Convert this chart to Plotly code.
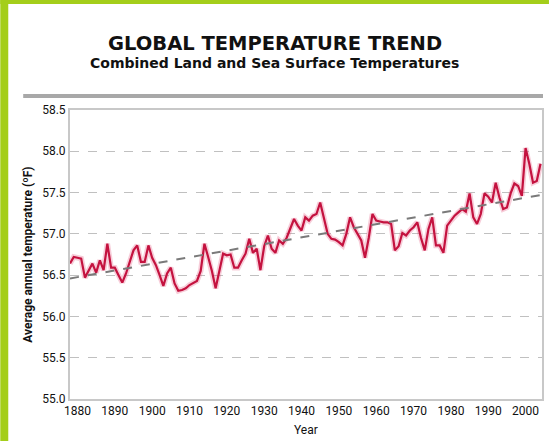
import plotly.graph_objects as go

years = list(range(1878, 2005))
temps = [
    56.64, 56.72, 56.71, 56.70, 56.47, 56.55, 56.64, 56.53, 56.68, 56.56,  # 1878-1887
    56.88, 56.59, 56.59, 56.50, 56.41, 56.52, 56.65, 56.80, 56.86, 56.66,  # 1888-1897
    56.66, 56.86, 56.71, 56.62, 56.50, 56.37, 56.52, 56.59, 56.40, 56.31,  # 1898-1907
    56.32, 56.34, 56.38, 56.41, 56.43, 56.55, 56.88, 56.72, 56.55, 56.34,  # 1908-1917
    56.56, 56.76, 56.74, 56.75, 56.59, 56.59, 56.68, 56.76, 56.94, 56.77,  # 1918-1927
    56.82, 56.56, 56.85, 56.98, 56.82, 56.77, 56.92, 56.88, 56.95, 57.07,  # 1928-1937
    57.18, 57.10, 57.04, 57.20, 57.16, 57.22, 57.24, 57.38, 57.18, 57.00,  # 1938-1947
    56.94, 56.93, 56.90, 56.86, 57.00, 57.20, 57.08, 57.00, 56.92, 56.71,  # 1948-1957
    56.95, 57.24, 57.16, 57.15, 57.14, 57.14, 57.12, 56.80, 56.85, 57.01,  # 1958-1967
    56.98, 57.04, 57.08, 57.14, 56.95, 56.80, 57.06, 57.20, 56.86, 56.86,  # 1968-1977
    56.77, 57.10, 57.16, 57.22, 57.26, 57.30, 57.27, 57.49, 57.20, 57.12,  # 1978-1987
    57.24, 57.49, 57.45, 57.38, 57.62, 57.44, 57.30, 57.32, 57.49, 57.61,  # 1988-1997
    57.58, 57.46, 58.04, 57.85, 57.62, 57.64, 57.85,                       # 1998-2004
]
trend_years = [1878, 2004]
trend_vals = [56.46, 57.47]

x_ticks = [1880, 1890, 1900, 1910, 1920, 1930, 1940, 1950, 1960, 1970, 1980, 1990, 2000]
y_ticks = [55.0, 55.5, 56.0, 56.5, 57.0, 57.5, 58.0, 58.5]

title = "GLOBAL TEMPERATURE TREND"
subtitle = "Combined Land and Sea Surface Temperatures"
y_title = "Average annual temperature (ºF)"
x_title = "Year"

# pixel layout helpers
W, H = 551, 441
L, R, T, B = 70, 7, 110, 42
pw, ph = W - L - R, H - T - B


def px_x(x):
    return (x - L) / pw


def px_y(y):
    return (H - B - y) / ph


FONT = "Roboto"
TFONT = "DejaVu Sans"
GREEN = "#A4CE1A"

fig = go.Figure()
# soft halo beneath the line
fig.add_trace(go.Scatter(x=years, y=temps, mode="lines",
                         line=dict(color="rgba(230,90,130,0.30)", width=5.5),
                         hoverinfo="skip", showlegend=False))
fig.add_trace(go.Scatter(x=years, y=temps, mode="lines",
                         line=dict(color="#C4123F", width=2.2),
                         showlegend=False))
fig.add_trace(go.Scatter(x=trend_years, y=trend_vals, mode="lines",
                         line=dict(color="#7a7a7a", width=2, dash="dash"),
                         showlegend=False))

fig.update_layout(
    width=W, height=H,
    margin=dict(l=L, r=R, t=T, b=B),
    paper_bgcolor="white", plot_bgcolor="white",
    font=dict(family=FONT, color="#111111", size=12),
    xaxis=dict(range=[1878, 2004.4], tickvals=x_ticks, showgrid=False,
               showline=True, linecolor="#c8c8c8", linewidth=2, mirror=True,
               ticks="", tickfont=dict(size=12, family=FONT), zeroline=False),
    yaxis=dict(range=[55.0, 58.5], tickvals=y_ticks, tickformat=".1f",
               showgrid=True, gridcolor="#c0c0c0", griddash="dash", gridwidth=1,
               showline=True, linecolor="#c8c8c8", linewidth=2, mirror=True,
               ticks="", tickfont=dict(size=12, family=FONT), zeroline=False),
    annotations=[
        dict(text="<b>" + title + "</b>", x=px_x(W / 2), y=px_y(43), xref="paper", yref="paper",
             showarrow=False, xanchor="center", yanchor="middle",
             font=dict(size=19.5, family=TFONT, color="#111111")),
        dict(text="<b>" + subtitle + "</b>", x=px_x(W / 2), y=px_y(63), xref="paper", yref="paper",
             showarrow=False, xanchor="center", yanchor="middle",
             font=dict(size=14, family=TFONT, color="#111111")),
        dict(text="<b>" + y_title + "</b>", x=px_x(27), y=0.5, xref="paper", yref="paper",
             showarrow=False, xanchor="center", yanchor="middle", textangle=-90,
             font=dict(size=12, family=FONT, color="#111111")),
        dict(text=x_title, x=0.5, y=px_y(430), xref="paper", yref="paper",
             showarrow=False, xanchor="center", yanchor="middle",
             font=dict(size=12, family=FONT, color="#111111")),
    ],
    shapes=[
        # green frame
        dict(type="rect", xref="paper", yref="paper", x0=px_x(0), x1=px_x(8),
             y0=px_y(H), y1=px_y(0), fillcolor=GREEN, line=dict(width=0), layer="above"),
        dict(type="rect", xref="paper", yref="paper", x0=px_x(0), x1=px_x(W),
             y0=px_y(4), y1=px_y(0), fillcolor=GREEN, line=dict(width=0), layer="above"),
        # gray rule under titles
        dict(type="line", xref="paper", yref="paper", x0=px_x(23), x1=px_x(545),
             y0=px_y(96), y1=px_y(96), line=dict(color="#a8a8a8", width=4)),
    ],
)

fig.write_html("out.html", config={"displayModeBar": False},
               post_script="document.body.style.margin='0';")
